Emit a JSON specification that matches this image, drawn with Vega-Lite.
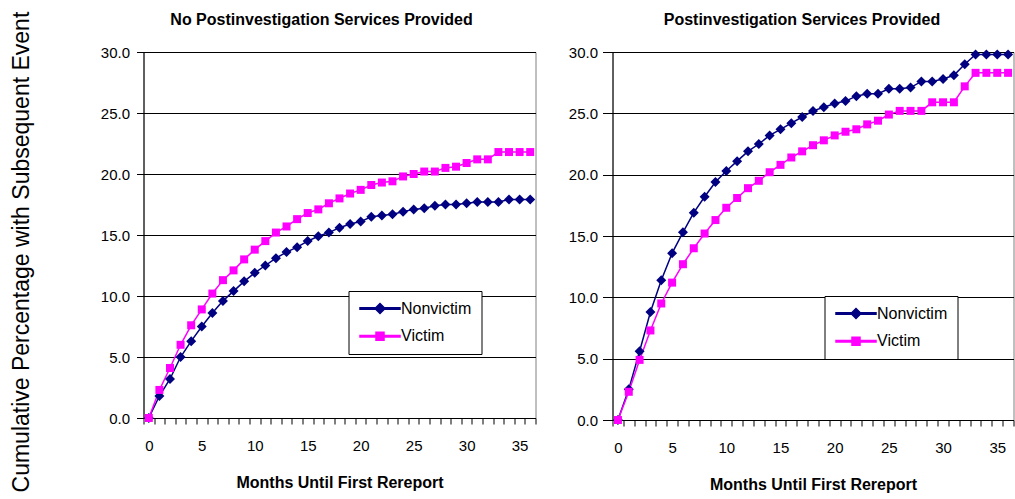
{
  "$schema": "https://vega.github.io/schema/vega-lite/v6.json",
  "background": "white",
  "padding": {"left": 10.5, "top": 11, "right": 0, "bottom": 0},
  "spacing": 26,
  "title": {"text": "Cumulative Percentage with Subsequent Event", "orient": "left", "anchor": "middle", "frame": "bounds", "fontSize": 23, "fontWeight": "normal", "baseline": "middle", "offset": 55},
  "config": {
    "font": "Liberation Sans",
    "view": {"stroke": "#808080", "strokeWidth": 1},
    "title": {"font": "Liberation Sans", "fontSize": 16, "fontWeight": "bold", "color": "#000", "baseline": "alphabetic", "offset": 16.8, "anchor": "middle"},
    "axis": {"domainColor": "#000", "tickColor": "#000", "labelColor": "#000", "titleColor": "#000", "labelFont": "Liberation Sans", "labelFontSize": 15, "titleFont": "Liberation Sans", "titleFontSize": 16, "titleFontWeight": "bold", "gridColor": "#000", "gridWidth": 1, "gridOpacity": 1, "domainWidth": 1, "tickWidth": 1},
    "legend": {"strokeColor": "#000", "fillColor": "#fff", "padding": 9.5, "labelFont": "Liberation Sans", "labelFontSize": 16, "labelColor": "#000", "symbolSize": 100, "symbolOffset": 14, "labelOffset": 13, "rowPadding": 11.7}
  },
  "datasets": {
    "none": [
      {"month": 0, "group": "Nonvictim", "pct": 0}, {"month": 1, "group": "Nonvictim", "pct": 1.8}, {"month": 2, "group": "Nonvictim", "pct": 3.2}, {"month": 3, "group": "Nonvictim", "pct": 5.0}, {"month": 4, "group": "Nonvictim", "pct": 6.3}, {"month": 5, "group": "Nonvictim", "pct": 7.5}, {"month": 6, "group": "Nonvictim", "pct": 8.6}, {"month": 7, "group": "Nonvictim", "pct": 9.6}, {"month": 8, "group": "Nonvictim", "pct": 10.4}, {"month": 9, "group": "Nonvictim", "pct": 11.2}, {"month": 10, "group": "Nonvictim", "pct": 11.9}, {"month": 11, "group": "Nonvictim", "pct": 12.5}, {"month": 12, "group": "Nonvictim", "pct": 13.1}, {"month": 13, "group": "Nonvictim", "pct": 13.6}, {"month": 14, "group": "Nonvictim", "pct": 14.0}, {"month": 15, "group": "Nonvictim", "pct": 14.5}, {"month": 16, "group": "Nonvictim", "pct": 14.9}, {"month": 17, "group": "Nonvictim", "pct": 15.2}, {"month": 18, "group": "Nonvictim", "pct": 15.6}, {"month": 19, "group": "Nonvictim", "pct": 15.9}, {"month": 20, "group": "Nonvictim", "pct": 16.1}, {"month": 21, "group": "Nonvictim", "pct": 16.5}, {"month": 22, "group": "Nonvictim", "pct": 16.6}, {"month": 23, "group": "Nonvictim", "pct": 16.7}, {"month": 24, "group": "Nonvictim", "pct": 16.9}, {"month": 25, "group": "Nonvictim", "pct": 17.1}, {"month": 26, "group": "Nonvictim", "pct": 17.2}, {"month": 27, "group": "Nonvictim", "pct": 17.4}, {"month": 28, "group": "Nonvictim", "pct": 17.5}, {"month": 29, "group": "Nonvictim", "pct": 17.5}, {"month": 30, "group": "Nonvictim", "pct": 17.6}, {"month": 31, "group": "Nonvictim", "pct": 17.7}, {"month": 32, "group": "Nonvictim", "pct": 17.7}, {"month": 33, "group": "Nonvictim", "pct": 17.7}, {"month": 34, "group": "Nonvictim", "pct": 17.9}, {"month": 35, "group": "Nonvictim", "pct": 17.9}, {"month": 36, "group": "Nonvictim", "pct": 17.9},
      {"month": 0, "group": "Victim", "pct": 0}, {"month": 1, "group": "Victim", "pct": 2.3}, {"month": 2, "group": "Victim", "pct": 4.1}, {"month": 3, "group": "Victim", "pct": 6.0}, {"month": 4, "group": "Victim", "pct": 7.6}, {"month": 5, "group": "Victim", "pct": 8.9}, {"month": 6, "group": "Victim", "pct": 10.2}, {"month": 7, "group": "Victim", "pct": 11.3}, {"month": 8, "group": "Victim", "pct": 12.1}, {"month": 9, "group": "Victim", "pct": 13.0}, {"month": 10, "group": "Victim", "pct": 13.8}, {"month": 11, "group": "Victim", "pct": 14.5}, {"month": 12, "group": "Victim", "pct": 15.2}, {"month": 13, "group": "Victim", "pct": 15.7}, {"month": 14, "group": "Victim", "pct": 16.3}, {"month": 15, "group": "Victim", "pct": 16.8}, {"month": 16, "group": "Victim", "pct": 17.1}, {"month": 17, "group": "Victim", "pct": 17.6}, {"month": 18, "group": "Victim", "pct": 18.0}, {"month": 19, "group": "Victim", "pct": 18.4}, {"month": 20, "group": "Victim", "pct": 18.7}, {"month": 21, "group": "Victim", "pct": 19.1}, {"month": 22, "group": "Victim", "pct": 19.3}, {"month": 23, "group": "Victim", "pct": 19.4}, {"month": 24, "group": "Victim", "pct": 19.8}, {"month": 25, "group": "Victim", "pct": 20.0}, {"month": 26, "group": "Victim", "pct": 20.2}, {"month": 27, "group": "Victim", "pct": 20.2}, {"month": 28, "group": "Victim", "pct": 20.5}, {"month": 29, "group": "Victim", "pct": 20.6}, {"month": 30, "group": "Victim", "pct": 20.9}, {"month": 31, "group": "Victim", "pct": 21.2}, {"month": 32, "group": "Victim", "pct": 21.2}, {"month": 33, "group": "Victim", "pct": 21.8}, {"month": 34, "group": "Victim", "pct": 21.8}, {"month": 35, "group": "Victim", "pct": 21.8}, {"month": 36, "group": "Victim", "pct": 21.8}
    ],
    "provided": [
      {"month": 0, "group": "Nonvictim", "pct": 0}, {"month": 1, "group": "Nonvictim", "pct": 2.5}, {"month": 2, "group": "Nonvictim", "pct": 5.6}, {"month": 3, "group": "Nonvictim", "pct": 8.8}, {"month": 4, "group": "Nonvictim", "pct": 11.4}, {"month": 5, "group": "Nonvictim", "pct": 13.6}, {"month": 6, "group": "Nonvictim", "pct": 15.3}, {"month": 7, "group": "Nonvictim", "pct": 16.9}, {"month": 8, "group": "Nonvictim", "pct": 18.2}, {"month": 9, "group": "Nonvictim", "pct": 19.4}, {"month": 10, "group": "Nonvictim", "pct": 20.3}, {"month": 11, "group": "Nonvictim", "pct": 21.1}, {"month": 12, "group": "Nonvictim", "pct": 21.9}, {"month": 13, "group": "Nonvictim", "pct": 22.5}, {"month": 14, "group": "Nonvictim", "pct": 23.2}, {"month": 15, "group": "Nonvictim", "pct": 23.7}, {"month": 16, "group": "Nonvictim", "pct": 24.2}, {"month": 17, "group": "Nonvictim", "pct": 24.7}, {"month": 18, "group": "Nonvictim", "pct": 25.2}, {"month": 19, "group": "Nonvictim", "pct": 25.5}, {"month": 20, "group": "Nonvictim", "pct": 25.8}, {"month": 21, "group": "Nonvictim", "pct": 26.0}, {"month": 22, "group": "Nonvictim", "pct": 26.4}, {"month": 23, "group": "Nonvictim", "pct": 26.6}, {"month": 24, "group": "Nonvictim", "pct": 26.6}, {"month": 25, "group": "Nonvictim", "pct": 27.0}, {"month": 26, "group": "Nonvictim", "pct": 27.0}, {"month": 27, "group": "Nonvictim", "pct": 27.1}, {"month": 28, "group": "Nonvictim", "pct": 27.6}, {"month": 29, "group": "Nonvictim", "pct": 27.6}, {"month": 30, "group": "Nonvictim", "pct": 27.8}, {"month": 31, "group": "Nonvictim", "pct": 28.1}, {"month": 32, "group": "Nonvictim", "pct": 29.0}, {"month": 33, "group": "Nonvictim", "pct": 29.8}, {"month": 34, "group": "Nonvictim", "pct": 29.8}, {"month": 35, "group": "Nonvictim", "pct": 29.8}, {"month": 36, "group": "Nonvictim", "pct": 29.8},
      {"month": 0, "group": "Victim", "pct": 0}, {"month": 1, "group": "Victim", "pct": 2.3}, {"month": 2, "group": "Victim", "pct": 4.9}, {"month": 3, "group": "Victim", "pct": 7.3}, {"month": 4, "group": "Victim", "pct": 9.5}, {"month": 5, "group": "Victim", "pct": 11.2}, {"month": 6, "group": "Victim", "pct": 12.7}, {"month": 7, "group": "Victim", "pct": 14.0}, {"month": 8, "group": "Victim", "pct": 15.2}, {"month": 9, "group": "Victim", "pct": 16.3}, {"month": 10, "group": "Victim", "pct": 17.3}, {"month": 11, "group": "Victim", "pct": 18.1}, {"month": 12, "group": "Victim", "pct": 18.9}, {"month": 13, "group": "Victim", "pct": 19.5}, {"month": 14, "group": "Victim", "pct": 20.2}, {"month": 15, "group": "Victim", "pct": 20.8}, {"month": 16, "group": "Victim", "pct": 21.4}, {"month": 17, "group": "Victim", "pct": 21.9}, {"month": 18, "group": "Victim", "pct": 22.4}, {"month": 19, "group": "Victim", "pct": 22.8}, {"month": 20, "group": "Victim", "pct": 23.2}, {"month": 21, "group": "Victim", "pct": 23.5}, {"month": 22, "group": "Victim", "pct": 23.7}, {"month": 23, "group": "Victim", "pct": 24.1}, {"month": 24, "group": "Victim", "pct": 24.4}, {"month": 25, "group": "Victim", "pct": 24.9}, {"month": 26, "group": "Victim", "pct": 25.2}, {"month": 27, "group": "Victim", "pct": 25.2}, {"month": 28, "group": "Victim", "pct": 25.2}, {"month": 29, "group": "Victim", "pct": 25.9}, {"month": 30, "group": "Victim", "pct": 25.9}, {"month": 31, "group": "Victim", "pct": 25.9}, {"month": 32, "group": "Victim", "pct": 27.2}, {"month": 33, "group": "Victim", "pct": 28.3}, {"month": 34, "group": "Victim", "pct": 28.3}, {"month": 35, "group": "Victim", "pct": 28.3}, {"month": 36, "group": "Victim", "pct": 28.3}
    ]
  },
  "resolve": {"scale": {"color": "independent", "shape": "independent"}},
  "hconcat": [
    {
      "width": 392,
      "height": 366,
      "data": {"name": "none"},
      "title": {"text": "No Postinvestigation Services Provided", "dx": -18},
      "encoding": {
        "x": {"field": "month", "type": "quantitative", "scale": {"domain": [-0.5, 36.5], "nice": false, "zero": false},
          "axis": {"values": [-0.5, 0.5, 1.5, 2.5, 3.5, 4.5, 5.5, 6.5, 7.5, 8.5, 9.5, 10.5, 11.5, 12.5, 13.5, 14.5, 15.5, 16.5, 17.5, 18.5, 19.5, 20.5, 21.5, 22.5, 23.5, 24.5, 25.5, 26.5, 27.5, 28.5, 29.5, 30.5, 31.5, 32.5, 33.5, 34.5, 35.5, 36.5],
            "labelExpr": "(datum.value + 0.5) % 5 === 0 ? format(datum.value + 0.5, 'd') : ''",
            "labelOffset": 5.3, "labelFlush": false, "labelOverlap": false, "labelBound": false, "tickSize": 6, "labelPadding": 14, "grid": false,
            "title": "Months Until First Rereport", "titlePadding": 21}},
        "y": {"field": "pct", "type": "quantitative", "scale": {"domain": [0, 30], "nice": false, "zero": true},
          "axis": {"values": [0, 5, 10, 15, 20, 25, 30], "format": ".1f", "grid": true, "tickSize": 7, "labelPadding": 7, "title": null}},
        "color": {"field": "group", "type": "nominal", "scale": {"domain": ["Nonvictim", "Victim"], "range": ["#000080", "#FF00FF"]},
          "legend": {"orient": "none", "legendX": 205, "legendY": 239, "title": null}}
      },
      "layer": [
        {"mark": {"type": "line", "strokeWidth": 1.5}, "encoding": {}},
        {"transform": [{"filter": "datum.group === 'Nonvictim'"}], "mark": {"type": "point", "filled": true, "opacity": 1, "shape": "diamond", "size": 100}, "encoding": {}},
        {"transform": [{"filter": "datum.group === 'Victim'"}], "mark": {"type": "point", "filled": true, "opacity": 1, "shape": "square", "size": 64}, "encoding": {}},
        {"transform": [{"filter": "false"}], "mark": {"type": "point", "filled": true, "opacity": 1},
          "encoding": {
            "shape": {"field": "group", "type": "nominal", "scale": {"domain": ["Nonvictim", "Victim"], "range": ["M-4,-0.15H4V0.15H-4ZM0,-1L1,0L0,1L-1,0Z", "M-4,-0.15H4V0.15H-4ZM-0.8,-0.8H0.8V0.8H-0.8Z"]},
              "legend": {"orient": "none", "legendX": 205, "legendY": 239, "title": null}}}}
      ]
    },
    {
      "width": 401,
      "height": 368,
      "data": {"name": "provided"},
      "title": {"text": "Postinvestigation Services Provided", "dx": -11},
      "encoding": {
        "x": {"field": "month", "type": "quantitative", "scale": {"domain": [-0.5, 36.5], "nice": false, "zero": false},
          "axis": {"values": [-0.5, 0.5, 1.5, 2.5, 3.5, 4.5, 5.5, 6.5, 7.5, 8.5, 9.5, 10.5, 11.5, 12.5, 13.5, 14.5, 15.5, 16.5, 17.5, 18.5, 19.5, 20.5, 21.5, 22.5, 23.5, 24.5, 25.5, 26.5, 27.5, 28.5, 29.5, 30.5, 31.5, 32.5, 33.5, 34.5, 35.5, 36.5],
            "labelExpr": "(datum.value + 0.5) % 5 === 0 ? format(datum.value + 0.5, 'd') : ''",
            "labelOffset": 5.4, "labelFlush": false, "labelOverlap": false, "labelBound": false, "tickSize": 6, "labelPadding": 14, "grid": false,
            "title": "Months Until First Rereport", "titlePadding": 21}},
        "y": {"field": "pct", "type": "quantitative", "scale": {"domain": [0, 30], "nice": false, "zero": true},
          "axis": {"values": [0, 5, 10, 15, 20, 25, 30], "format": ".1f", "grid": true, "tickSize": 10, "labelPadding": 5, "title": null}},
        "color": {"field": "group", "type": "nominal", "scale": {"domain": ["Nonvictim", "Victim"], "range": ["#000080", "#FF00FF"]},
          "legend": {"orient": "none", "legendX": 212, "legendY": 244, "title": null}}
      },
      "layer": [
        {"mark": {"type": "line", "strokeWidth": 1.5}, "encoding": {}},
        {"transform": [{"filter": "datum.group === 'Nonvictim'"}], "mark": {"type": "point", "filled": true, "opacity": 1, "shape": "diamond", "size": 100}, "encoding": {}},
        {"transform": [{"filter": "datum.group === 'Victim'"}], "mark": {"type": "point", "filled": true, "opacity": 1, "shape": "square", "size": 64}, "encoding": {}},
        {"transform": [{"filter": "false"}], "mark": {"type": "point", "filled": true, "opacity": 1},
          "encoding": {
            "shape": {"field": "group", "type": "nominal", "scale": {"domain": ["Nonvictim", "Victim"], "range": ["M-4,-0.15H4V0.15H-4ZM0,-1L1,0L0,1L-1,0Z", "M-4,-0.15H4V0.15H-4ZM-0.8,-0.8H0.8V0.8H-0.8Z"]},
              "legend": {"orient": "none", "legendX": 212, "legendY": 244, "title": null}}}}
      ]
    }
  ]
}
